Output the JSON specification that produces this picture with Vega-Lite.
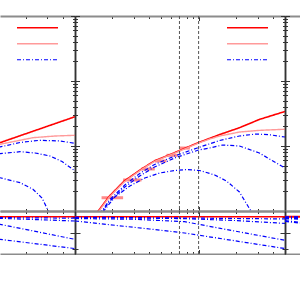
{
  "$schema": "https://vega.github.io/schema/vega-lite/v6.json",
  "padding": {"left": 0, "top": 15, "right": 0, "bottom": 0},
  "bounds": "flush",
  "spacing": 0,
  "columns": 3,
  "resolve": {"scale": {"color":"independent","strokeDash":"independent","strokeWidth":"independent"}},
  "config": {
    "view": {"stroke": null},
    "axis": {"grid": false, "labels": false, "tickColor": "#333333", "tickWidth": 1},
    "axisX": {"domainColor": "#8c8c8c", "domainWidth": 2},
    "axisY": {"domainColor": "#333333", "domainWidth": 1.5}
  },
  "datasets": {
    "curves": [
      {"panel":"C","zone":"top","series":"total","curve":"r","x":0.148,"y":0.899},
      {"panel":"C","zone":"top","series":"total","curve":"r","x":0.19,"y":1.70},
      {"panel":"C","zone":"top","series":"total","curve":"r","x":0.25,"y":2.89},
      {"panel":"C","zone":"top","series":"total","curve":"r","x":0.345,"y":4.43},
      {"panel":"C","zone":"top","series":"total","curve":"r","x":0.44,"y":5.9},
      {"panel":"C","zone":"top","series":"total","curve":"r","x":0.55,"y":7.0},
      {"panel":"C","zone":"top","series":"total","curve":"r","x":0.7,"y":8.5},
      {"panel":"C","zone":"top","series":"total","curve":"r","x":1.0,"y":11.3},
      {"panel":"C","zone":"top","series":"total","curve":"r","x":1.48,"y":15.0},
      {"panel":"C","zone":"top","series":"total","curve":"r","x":2.14,"y":19.1},
      {"panel":"C","zone":"top","series":"total","curve":"r","x":3.1,"y":25.6},
      {"panel":"C","zone":"top","series":"total","curve":"r","x":5,"y":34.0},

      {"panel":"C","zone":"top","series":"smooth","curve":"p","x":0.148,"y":0.87},
      {"panel":"C","zone":"top","series":"smooth","curve":"p","x":0.19,"y":1.65},
      {"panel":"C","zone":"top","series":"smooth","curve":"p","x":0.25,"y":2.8},
      {"panel":"C","zone":"top","series":"smooth","curve":"p","x":0.345,"y":4.35},
      {"panel":"C","zone":"top","series":"smooth","curve":"p","x":0.44,"y":5.8},
      {"panel":"C","zone":"top","series":"smooth","curve":"p","x":0.55,"y":6.9},
      {"panel":"C","zone":"top","series":"smooth","curve":"p","x":0.7,"y":8.35},
      {"panel":"C","zone":"top","series":"smooth","curve":"p","x":1.0,"y":11.1},
      {"panel":"C","zone":"top","series":"smooth","curve":"p","x":1.23,"y":12.8},
      {"panel":"C","zone":"top","series":"smooth","curve":"p","x":1.48,"y":14.25},
      {"panel":"C","zone":"top","series":"smooth","curve":"p","x":2.14,"y":16.4},
      {"panel":"C","zone":"top","series":"smooth","curve":"p","x":3.1,"y":17.4},
      {"panel":"C","zone":"top","series":"smooth","curve":"p","x":5,"y":18.1},

      {"panel":"C","zone":"top","series":"comp","curve":"b1","x":0.159,"y":0.899},
      {"panel":"C","zone":"top","series":"comp","curve":"b1","x":0.19,"y":1.476},
      {"panel":"C","zone":"top","series":"comp","curve":"b1","x":0.253,"y":2.51},
      {"panel":"C","zone":"top","series":"comp","curve":"b1","x":0.334,"y":3.78},
      {"panel":"C","zone":"top","series":"comp","curve":"b1","x":0.44,"y":5.19},
      {"panel":"C","zone":"top","series":"comp","curve":"b1","x":0.64,"y":7.02},
      {"panel":"C","zone":"top","series":"comp","curve":"b1","x":1.0,"y":9.48},
      {"panel":"C","zone":"top","series":"comp","curve":"b1","x":1.48,"y":12.15},
      {"panel":"C","zone":"top","series":"comp","curve":"b1","x":2.14,"y":14.25},
      {"panel":"C","zone":"top","series":"comp","curve":"b1","x":2.94,"y":15.3},
      {"panel":"C","zone":"top","series":"comp","curve":"b1","x":3.74,"y":14.9},
      {"panel":"C","zone":"top","series":"comp","curve":"b1","x":5,"y":13.76},

      {"panel":"C","zone":"top","series":"comp","curve":"b2","x":0.159,"y":0.868},
      {"panel":"C","zone":"top","series":"comp","curve":"b2","x":0.19,"y":1.40},
      {"panel":"C","zone":"top","series":"comp","curve":"b2","x":0.253,"y":2.34},
      {"panel":"C","zone":"top","series":"comp","curve":"b2","x":0.334,"y":3.46},
      {"panel":"C","zone":"top","series":"comp","curve":"b2","x":0.44,"y":4.75},
      {"panel":"C","zone":"top","series":"comp","curve":"b2","x":0.64,"y":6.54},
      {"panel":"C","zone":"top","series":"comp","curve":"b2","x":1.0,"y":8.68},
      {"panel":"C","zone":"top","series":"comp","curve":"b2","x":1.23,"y":9.32},
      {"panel":"C","zone":"top","series":"comp","curve":"b2","x":1.56,"y":10.36},
      {"panel":"C","zone":"top","series":"comp","curve":"b2","x":2.14,"y":10.0},
      {"panel":"C","zone":"top","series":"comp","curve":"b2","x":3.1,"y":7.8},
      {"panel":"C","zone":"top","series":"comp","curve":"b2","x":5,"y":4.59},

      {"panel":"C","zone":"top","series":"comp","curve":"b3","x":0.168,"y":0.965},
      {"panel":"C","zone":"top","series":"comp","curve":"b3","x":0.21,"y":1.642},
      {"panel":"C","zone":"top","series":"comp","curve":"b3","x":0.278,"y":2.424},
      {"panel":"C","zone":"top","series":"comp","curve":"b3","x":0.367,"y":3.219},
      {"panel":"C","zone":"top","series":"comp","curve":"b3","x":0.485,"y":3.842},
      {"panel":"C","zone":"top","series":"comp","curve":"b3","x":0.64,"y":4.199},
      {"panel":"C","zone":"top","series":"comp","curve":"b3","x":0.8,"y":4.349},
      {"panel":"C","zone":"top","series":"comp","curve":"b3","x":1.02,"y":4.199},
      {"panel":"C","zone":"top","series":"comp","curve":"b3","x":1.35,"y":3.579},
      {"panel":"C","zone":"top","series":"comp","curve":"b3","x":1.68,"y":2.894},
      {"panel":"C","zone":"top","series":"comp","curve":"b3","x":2.14,"y":1.96},
      {"panel":"C","zone":"top","series":"comp","curve":"b3","x":2.68,"y":0.965},

      {"panel":"L","zone":"top","series":"total","curve":"r","x":1.03,"y":10.0},
      {"panel":"L","zone":"top","series":"total","curve":"r","x":1.24,"y":11.24},
      {"panel":"L","zone":"top","series":"total","curve":"r","x":2.49,"y":17.81},
      {"panel":"L","zone":"top","series":"total","curve":"r","x":5,"y":28.23},

      {"panel":"L","zone":"top","series":"smooth","curve":"p","x":1.03,"y":9.48},
      {"panel":"L","zone":"top","series":"smooth","curve":"p","x":1.24,"y":10.62},
      {"panel":"L","zone":"top","series":"smooth","curve":"p","x":2.29,"y":13.42},
      {"panel":"L","zone":"top","series":"smooth","curve":"p","x":3.45,"y":14.25},
      {"panel":"L","zone":"top","series":"smooth","curve":"p","x":5,"y":14.61},

      {"panel":"L","zone":"top","series":"comp","curve":"b1","x":1.03,"y":8.68},
      {"panel":"L","zone":"top","series":"comp","curve":"b1","x":1.24,"y":9.65},
      {"panel":"L","zone":"top","series":"comp","curve":"b1","x":1.8,"y":11.32},
      {"panel":"L","zone":"top","series":"comp","curve":"b1","x":2.61,"y":12.24},
      {"panel":"L","zone":"top","series":"comp","curve":"b1","x":3.78,"y":11.94},
      {"panel":"L","zone":"top","series":"comp","curve":"b1","x":5,"y":11.0},

      {"panel":"L","zone":"top","series":"comp","curve":"b2","x":1.03,"y":7.27},
      {"panel":"L","zone":"top","series":"comp","curve":"b2","x":1.24,"y":7.61},
      {"panel":"L","zone":"top","series":"comp","curve":"b2","x":1.8,"y":8.17},
      {"panel":"L","zone":"top","series":"comp","curve":"b2","x":2.38,"y":7.81},
      {"panel":"L","zone":"top","series":"comp","curve":"b2","x":3.14,"y":7.02},
      {"panel":"L","zone":"top","series":"comp","curve":"b2","x":3.93,"y":5.77},
      {"panel":"L","zone":"top","series":"comp","curve":"b2","x":5,"y":4.13},

      {"panel":"L","zone":"top","series":"comp","curve":"b3","x":1.03,"y":3.46},
      {"panel":"L","zone":"top","series":"comp","curve":"b3","x":1.24,"y":3.25},
      {"panel":"L","zone":"top","series":"comp","curve":"b3","x":1.8,"y":2.73},
      {"panel":"L","zone":"top","series":"comp","curve":"b3","x":2.29,"y":2.16},
      {"panel":"L","zone":"top","series":"comp","curve":"b3","x":2.71,"y":1.585},
      {"panel":"L","zone":"top","series":"comp","curve":"b3","x":3.05,"y":1.0},
      {"panel":"L","zone":"top","series":"comp","curve":"b3","x":3.26,"y":0.81},

      {"panel":"C","zone":"bottom","series":"total","curve":"r","x":0.1,"y":1.0},
      {"panel":"C","zone":"bottom","series":"total","curve":"r","x":5,"y":1.0},
      {"panel":"C","zone":"bottom","series":"comp","curve":"b1","x":0.1,"y":0.985},
      {"panel":"C","zone":"bottom","series":"comp","curve":"b1","x":0.77,"y":0.96},
      {"panel":"C","zone":"bottom","series":"comp","curve":"b1","x":5,"y":0.93},
      {"panel":"C","zone":"bottom","series":"comp","curve":"b2","x":0.1,"y":0.97},
      {"panel":"C","zone":"bottom","series":"comp","curve":"b2","x":0.3,"y":0.96},
      {"panel":"C","zone":"bottom","series":"comp","curve":"b2","x":0.77,"y":0.94},
      {"panel":"C","zone":"bottom","series":"comp","curve":"b2","x":2,"y":0.88},
      {"panel":"C","zone":"bottom","series":"comp","curve":"b2","x":5,"y":0.79},
      {"panel":"C","zone":"bottom","series":"comp","curve":"b3","x":0.1,"y":0.945},
      {"panel":"C","zone":"bottom","series":"comp","curve":"b3","x":0.3,"y":0.92},
      {"panel":"C","zone":"bottom","series":"comp","curve":"b3","x":0.77,"y":0.845},
      {"panel":"C","zone":"bottom","series":"comp","curve":"b3","x":1.5,"y":0.634},
      {"panel":"C","zone":"bottom","series":"comp","curve":"b3","x":5,"y":0.26},
      {"panel":"C","zone":"bottom","series":"comp","curve":"b4","x":0.1,"y":0.866},
      {"panel":"C","zone":"bottom","series":"comp","curve":"b4","x":0.4,"y":0.615},
      {"panel":"C","zone":"bottom","series":"comp","curve":"b4","x":0.77,"y":0.49},
      {"panel":"C","zone":"bottom","series":"comp","curve":"b4","x":5,"y":0.0},

      {"panel":"L","zone":"bottom","series":"total","curve":"r","x":1.03,"y":1.0},
      {"panel":"L","zone":"bottom","series":"total","curve":"r","x":5,"y":1.0},
      {"panel":"L","zone":"bottom","series":"comp","curve":"b1","x":1.03,"y":0.975},
      {"panel":"L","zone":"bottom","series":"comp","curve":"b1","x":5,"y":0.955},
      {"panel":"L","zone":"bottom","series":"comp","curve":"b2","x":1.03,"y":0.955},
      {"panel":"L","zone":"bottom","series":"comp","curve":"b2","x":1.24,"y":0.951},
      {"panel":"L","zone":"bottom","series":"comp","curve":"b2","x":5,"y":0.866},
      {"panel":"L","zone":"bottom","series":"comp","curve":"b3","x":1.03,"y":0.80},
      {"panel":"L","zone":"bottom","series":"comp","curve":"b3","x":1.24,"y":0.762},
      {"panel":"L","zone":"bottom","series":"comp","curve":"b3","x":5,"y":0.29},
      {"panel":"L","zone":"bottom","series":"comp","curve":"b4","x":1.03,"y":0.33},
      {"panel":"L","zone":"bottom","series":"comp","curve":"b4","x":1.24,"y":0.291},
      {"panel":"L","zone":"bottom","series":"comp","curve":"b4","x":5,"y":0.0}
    ],
    "bins": [
      {"x0":0.164,"x1":0.245,"y":1.60},
      {"x0":0.245,"x1":0.345,"y":3.0},
      {"x0":0.345,"x1":0.442,"y":4.43},
      {"x0":0.442,"x1":0.549,"y":5.88},
      {"x0":0.549,"x1":0.677,"y":7.19},
      {"x0":0.7,"x1":0.85,"y":9.3}
    ],
    "marks": [{"xr":0.7},{"xr":1.0}]
  },
  "concat": [
    {
      "width": 75, "height": 195,
      "layer": [
        {
          "data": {"name": "curves"},
          "transform": [{"filter": "datum.panel == 'L' && datum.zone == 'top' && datum.series != 'comp'"}],
          "mark": {"type": "line", "clip": true},
          "encoding": {
            "x": {"field":"x","type":"quantitative","scale":{"type":"log","domain":[1.242,5],"nice":false},
                  "axis":{"orient":"bottom","values":[2,3,4,5],"title":null,"tickSize":-2.5}},
            "y": {"field":"y","type":"quantitative","scale":{"type":"log","domain":[1,1000],"nice":false},
                  "axis":{"orient":"right","values":[1,2,3,4,5,6,7,8,9,10,20,30,40,50,60,70,80,90,100,200,300,400,500,600,700,800,900,1000],"title":null,
                          "tickSize":{"condition":{"test":"datum.value==1||datum.value==10||datum.value==100||datum.value==1000","value":-4.5},"value":-2.5}}},
            "color": {"field":"series","type":"nominal","scale":{"domain":["total","smooth","comp"],"range":["#ff0000","#ff9a9a","#0000ff"]},
                      "legend":{"orient":"none","legendX":16,"legendY":5,"title":null,"labelExpr":"''","symbolType":"stroke","symbolSize":1681,"symbolStrokeWidth":1.5,"clipHeight":13.5,"rowPadding":2,"padding":0,"labelOffset":0}},
            "strokeDash": {"field":"series","type":"nominal","scale":{"domain":["total","smooth","comp"],"range":[[1,0],[1,0],[4,2,1,2]]},
                      "legend":{"orient":"none","legendX":16,"legendY":5,"title":null,"labelExpr":"''","symbolType":"stroke","symbolSize":1681,"symbolStrokeWidth":1.5,"clipHeight":13.5,"rowPadding":2,"padding":0,"labelOffset":0}},
            "strokeWidth": {"field":"series","type":"ordinal","scale":{"domain":["total","smooth","comp"],"range":[1.6,1.2,1.3]},"legend":null},
            "detail": {"field":"curve"}
          }
        },
        {
          "data": {"name": "curves"},
          "transform": [{"filter": "datum.panel == 'L' && datum.zone == 'top' && datum.series == 'comp'"}],
          "mark": {"type": "line", "clip": true},
          "encoding": {
            "x": {"field":"x","type":"quantitative","scale":{"type":"log","domain":[1.242,5],"nice":false},
                  "axis":{"orient":"top","values":[2,3,4,5],"title":null,"tickSize":-2.5}},
            "y": {"field":"y","type":"quantitative","scale":{"type":"log","domain":[1,1000],"nice":false},"axis":null},
            "color": {"field":"series","type":"nominal","scale":{"domain":["total","smooth","comp"],"range":["#ff0000","#ff9a9a","#0000ff"]}},
            "strokeDash": {"field":"series","type":"nominal","scale":{"domain":["total","smooth","comp"],"range":[[1,0],[1,0],[4,2,1,2]]}},
            "strokeWidth": {"field":"series","type":"ordinal","scale":{"domain":["total","smooth","comp"],"range":[1.6,1.2,1.3]},"legend":null},
            "detail": {"field":"curve"}
          }
        }
      ],
      "resolve": {"axis": {"x":"independent","y":"independent"}}
    },
    {
      "width": 210, "height": 195,
      "layer": [
        {
          "data": {"name": "bins"},
          "mark": {"type": "rule", "color": "#ff8a8a", "strokeWidth": 3},
          "encoding": {
            "x": {"field":"x0","type":"quantitative","scale":{"type":"log","domain":[0.1,5],"nice":false},"axis":null},
            "x2": {"field":"x1"},
            "y": {"field":"y","type":"quantitative","scale":{"type":"log","domain":[1,1000],"nice":false},"axis":null}
          }
        },
        {
          "data": {"name": "curves"},
          "transform": [{"filter": "datum.panel == 'C' && datum.zone == 'top' && datum.series != 'comp'"}],
          "mark": {"type": "line", "clip": true},
          "encoding": {
            "x": {"field":"x","type":"quantitative","scale":{"type":"log","domain":[0.1,5],"nice":false},
                  "axis":{"orient":"bottom","values":[0.1,0.2,0.3,0.4,0.5,0.6,0.7,0.8,0.9,1,2,3,4,5],"title":null,
                          "tickSize":{"condition":{"test":"datum.value==1||datum.value==0.1","value":-4.5},"value":-2.5}}},
            "y": {"field":"y","type":"quantitative","scale":{"type":"log","domain":[1,1000],"nice":false},
                  "axis":{"orient":"left","values":[1,2,3,4,5,6,7,8,9,10,20,30,40,50,60,70,80,90,100,200,300,400,500,600,700,800,900,1000],"title":null,
                          "tickSize":{"condition":{"test":"datum.value==1||datum.value==10||datum.value==100||datum.value==1000","value":-4.5},"value":-2.5}}},
            "color": {"field":"series","type":"nominal","scale":{"domain":["total","smooth","comp"],"range":["#ff0000","#ff9a9a","#0000ff"]},
                      "legend":{"orient":"none","legendX":151,"legendY":5,"title":null,"labelExpr":"''","symbolType":"stroke","symbolSize":1681,"symbolStrokeWidth":1.5,"clipHeight":13.5,"rowPadding":2,"padding":0,"labelOffset":0}},
            "strokeDash": {"field":"series","type":"nominal","scale":{"domain":["total","smooth","comp"],"range":[[1,0],[1,0],[4,2,1,2]]},
                      "legend":{"orient":"none","legendX":151,"legendY":5,"title":null,"labelExpr":"''","symbolType":"stroke","symbolSize":1681,"symbolStrokeWidth":1.5,"clipHeight":13.5,"rowPadding":2,"padding":0,"labelOffset":0}},
            "strokeWidth": {"field":"series","type":"ordinal","scale":{"domain":["total","smooth","comp"],"range":[1.6,1.2,1.3]},"legend":null},
            "detail": {"field":"curve"}
          }
        },
        {
          "data": {"name": "curves"},
          "transform": [{"filter": "datum.panel == 'C' && datum.zone == 'top' && datum.series == 'comp'"}],
          "mark": {"type": "line", "clip": true},
          "encoding": {
            "x": {"field":"x","type":"quantitative","scale":{"type":"log","domain":[0.1,5],"nice":false},
                  "axis":{"orient":"top","values":[0.1,0.2,0.3,0.4,0.5,0.6,0.7,0.8,0.9,1,2,3,4,5],"title":null,
                          "tickSize":{"condition":{"test":"datum.value==1||datum.value==0.1","value":-4.5},"value":-2.5}}},
            "y": {"field":"y","type":"quantitative","scale":{"type":"log","domain":[1,1000],"nice":false},
                  "axis":{"orient":"right","values":[1,2,3,4,5,6,7,8,9,10,20,30,40,50,60,70,80,90,100,200,300,400,500,600,700,800,900,1000],"title":null,
                          "tickSize":{"condition":{"test":"datum.value==1||datum.value==10||datum.value==100||datum.value==1000","value":-4.5},"value":-2.5}}},
            "color": {"field":"series","type":"nominal","scale":{"domain":["total","smooth","comp"],"range":["#ff0000","#ff9a9a","#0000ff"]}},
            "strokeDash": {"field":"series","type":"nominal","scale":{"domain":["total","smooth","comp"],"range":[[1,0],[1,0],[4,2,1,2]]}},
            "strokeWidth": {"field":"series","type":"ordinal","scale":{"domain":["total","smooth","comp"],"range":[1.6,1.2,1.3]},"legend":null},
            "detail": {"field":"curve"}
          }
        },
        {
          "data": {"name": "marks"},
          "mark": {"type": "rule", "color": "#555555", "strokeDash": [3,2], "strokeWidth": 1},
          "encoding": {
            "x": {"field":"xr","type":"quantitative","scale":{"type":"log","domain":[0.1,5],"nice":false},"axis":null}
          }
        }
      ],
      "resolve": {"axis": {"x":"independent","y":"independent"}}
    },
    {
      "width": 15, "height": 195,
      "layer": [
        {
          "data": {"name": "curves"},
          "transform": [{"filter": "datum.panel == 'C' && datum.zone == 'top'"}],
          "mark": {"type": "line", "clip": true},
          "encoding": {
            "x": {"field":"x","type":"quantitative","scale":{"type":"log","domain":[0.1,0.1321],"nice":false},
                  "axis":{"orient":"bottom","values":[0.1],"title":null,"tickSize":-4.5}},
            "y": {"field":"y","type":"quantitative","scale":{"type":"log","domain":[1,1000],"nice":false},
                  "axis":{"orient":"left","values":[1,2,3,4,5,6,7,8,9,10,20,30,40,50,60,70,80,90,100,200,300,400,500,600,700,800,900,1000],"title":null,
                          "tickSize":{"condition":{"test":"datum.value==1||datum.value==10||datum.value==100||datum.value==1000","value":-4.5},"value":-2.5}}},
            "color": {"field":"series","type":"nominal","scale":{"domain":["total","smooth","comp"],"range":["#ff0000","#ff9a9a","#0000ff"]},"legend":null},
            "strokeDash": {"field":"series","type":"nominal","scale":{"domain":["total","smooth","comp"],"range":[[1,0],[1,0],[4,2,1,2]]},"legend":null},
            "detail": {"field":"curve"}
          }
        },
        {
          "data": {"name": "marks"},
          "mark": {"type": "rule", "opacity": 0, "clip": true},
          "encoding": {
            "x": {"field":"xr","type":"quantitative","scale":{"type":"log","domain":[0.1,0.1321],"nice":false},
                  "axis":{"orient":"top","values":[0.1],"title":null,"tickSize":-4.5}}
          }
        }
      ],
      "resolve": {"axis": {"x":"independent","y":"independent"}}
    },
    {
      "width": 75, "height": 43,
      "layer": [
        {
          "data": {"name": "curves"},
          "transform": [{"filter": "datum.panel == 'L' && datum.zone == 'bottom' && datum.series == 'total'"}],
          "mark": {"type": "line", "clip": true},
          "encoding": {
            "x": {"field":"x","type":"quantitative","scale":{"type":"log","domain":[1.242,5],"nice":false},
                  "axis":{"orient":"bottom","values":[2,3,4,5],"title":null,"tickSize":-2.5}},
            "y": {"field":"y","type":"quantitative","scale":{"domain":[-0.17,1.18],"nice":false,"zero":false},
                  "axis":{"orient":"right","values":[0,0.5,1],"title":null,
                          "tickSize":{"condition":{"test":"datum.value==0.5","value":-5},"value":-3}}},
            "color": {"field":"series","type":"nominal","scale":{"domain":["total","smooth","comp"],"range":["#ff0000","#ff9a9a","#0000ff"]},"legend":null},
            "strokeDash": {"field":"series","type":"nominal","scale":{"domain":["total","smooth","comp"],"range":[[1,0],[1,0],[4,2,1,2]]},"legend":null},
            "strokeWidth": {"field":"series","type":"ordinal","scale":{"domain":["total","smooth","comp"],"range":[1.6,1.2,1.3]},"legend":null},
            "detail": {"field":"curve"}
          }
        },
        {
          "data": {"name": "curves"},
          "transform": [{"filter": "datum.panel == 'L' && datum.zone == 'bottom' && datum.series == 'comp'"}],
          "mark": {"type": "line", "clip": true},
          "encoding": {
            "x": {"field":"x","type":"quantitative","scale":{"type":"log","domain":[1.242,5],"nice":false},
                  "axis":{"orient":"top","values":[2,3,4,5],"title":null,"tickSize":-2.5}},
            "y": {"field":"y","type":"quantitative","scale":{"domain":[-0.17,1.18],"nice":false,"zero":false},"axis":null},
            "color": {"field":"series","type":"nominal","scale":{"domain":["total","smooth","comp"],"range":["#ff0000","#ff9a9a","#0000ff"]},"legend":null},
            "strokeDash": {"field":"series","type":"nominal","scale":{"domain":["total","smooth","comp"],"range":[[1,0],[1,0],[4,2,1,2]]},"legend":null},
            "strokeWidth": {"field":"series","type":"ordinal","scale":{"domain":["total","smooth","comp"],"range":[1.6,1.2,1.3]},"legend":null},
            "detail": {"field":"curve"}
          }
        }
      ],
      "resolve": {"axis": {"x":"independent","y":"independent"}}
    },
    {
      "width": 210, "height": 43,
      "layer": [
        {
          "data": {"name": "curves"},
          "transform": [{"filter": "datum.panel == 'C' && datum.zone == 'bottom' && datum.series == 'total'"}],
          "mark": {"type": "line", "clip": true},
          "encoding": {
            "x": {"field":"x","type":"quantitative","scale":{"type":"log","domain":[0.1,5],"nice":false},
                  "axis":{"orient":"bottom","values":[0.1,0.2,0.3,0.4,0.5,0.6,0.7,0.8,0.9,1,2,3,4,5],"title":null,
                          "tickSize":{"condition":{"test":"datum.value==1||datum.value==0.1","value":-4.5},"value":-2.5}}},
            "y": {"field":"y","type":"quantitative","scale":{"domain":[-0.17,1.18],"nice":false,"zero":false},
                  "axis":{"orient":"left","values":[0,0.5,1],"title":null,
                          "tickSize":{"condition":{"test":"datum.value==0.5","value":-5},"value":-3}}},
            "color": {"field":"series","type":"nominal","scale":{"domain":["total","smooth","comp"],"range":["#ff0000","#ff9a9a","#0000ff"]},"legend":null},
            "strokeDash": {"field":"series","type":"nominal","scale":{"domain":["total","smooth","comp"],"range":[[1,0],[1,0],[4,2,1,2]]},"legend":null},
            "strokeWidth": {"field":"series","type":"ordinal","scale":{"domain":["total","smooth","comp"],"range":[1.6,1.2,1.3]},"legend":null},
            "detail": {"field":"curve"}
          }
        },
        {
          "data": {"name": "curves"},
          "transform": [{"filter": "datum.panel == 'C' && datum.zone == 'bottom' && datum.series == 'comp'"}],
          "mark": {"type": "line", "clip": true},
          "encoding": {
            "x": {"field":"x","type":"quantitative","scale":{"type":"log","domain":[0.1,5],"nice":false},
                  "axis":{"orient":"top","values":[0.1,0.2,0.3,0.4,0.5,0.6,0.7,0.8,0.9,1,2,3,4,5],"title":null,
                          "tickSize":{"condition":{"test":"datum.value==1||datum.value==0.1","value":-4.5},"value":-2.5}}},
            "y": {"field":"y","type":"quantitative","scale":{"domain":[-0.17,1.18],"nice":false,"zero":false},
                  "axis":{"orient":"right","values":[0,0.5,1],"title":null,
                          "tickSize":{"condition":{"test":"datum.value==0.5","value":-5},"value":-3}}},
            "color": {"field":"series","type":"nominal","scale":{"domain":["total","smooth","comp"],"range":["#ff0000","#ff9a9a","#0000ff"]},"legend":null},
            "strokeDash": {"field":"series","type":"nominal","scale":{"domain":["total","smooth","comp"],"range":[[1,0],[1,0],[4,2,1,2]]},"legend":null},
            "strokeWidth": {"field":"series","type":"ordinal","scale":{"domain":["total","smooth","comp"],"range":[1.6,1.2,1.3]},"legend":null},
            "detail": {"field":"curve"}
          }
        },
        {
          "data": {"name": "marks"},
          "mark": {"type": "rule", "color": "#555555", "strokeDash": [3,2], "strokeWidth": 1},
          "encoding": {
            "x": {"field":"xr","type":"quantitative","scale":{"type":"log","domain":[0.1,5],"nice":false},"axis":null}
          }
        }
      ],
      "resolve": {"axis": {"x":"independent","y":"independent"}}
    },
    {
      "width": 15, "height": 43,
      "layer": [
        {
          "data": {"name": "curves"},
          "transform": [{"filter": "datum.panel == 'C' && datum.zone == 'bottom'"}],
          "mark": {"type": "line", "clip": true},
          "encoding": {
            "x": {"field":"x","type":"quantitative","scale":{"type":"log","domain":[0.1,0.1321],"nice":false},
                  "axis":{"orient":"bottom","values":[0.1],"title":null,"tickSize":-4.5}},
            "y": {"field":"y","type":"quantitative","scale":{"domain":[-0.17,1.18],"nice":false,"zero":false},
                  "axis":{"orient":"left","values":[0,0.5,1],"title":null,
                          "tickSize":{"condition":{"test":"datum.value==0.5","value":-5},"value":-3}}},
            "color": {"field":"series","type":"nominal","scale":{"domain":["total","smooth","comp"],"range":["#ff0000","#ff9a9a","#0000ff"]},"legend":null},
            "strokeDash": {"field":"series","type":"nominal","scale":{"domain":["total","smooth","comp"],"range":[[1,0],[1,0],[4,2,1,2]]},"legend":null},
            "detail": {"field":"curve"}
          }
        },
        {
          "data": {"name": "marks"},
          "mark": {"type": "rule", "opacity": 0, "clip": true},
          "encoding": {
            "x": {"field":"xr","type":"quantitative","scale":{"type":"log","domain":[0.1,0.1321],"nice":false},
                  "axis":{"orient":"top","values":[0.1],"title":null,"tickSize":-4.5}}
          }
        }
      ],
      "resolve": {"axis": {"x":"independent","y":"independent"}}
    }
  ]
}
